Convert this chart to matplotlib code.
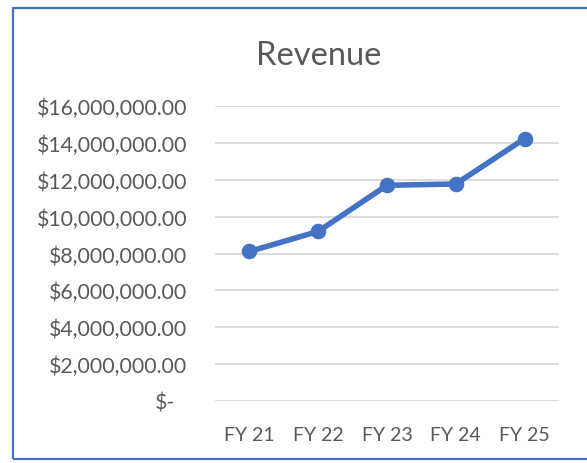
import matplotlib
matplotlib.use("Agg")
import matplotlib.pyplot as plt
from matplotlib.ticker import FuncFormatter, MultipleLocator
from matplotlib.patches import Rectangle
from matplotlib.transforms import ScaledTranslation

categories = ["FY 21", "FY 22", "FY 23", "FY 24", "FY 25"]
revenue = [8110000, 9200000, 11700000, 11770000, 14230000]
title = "Revenue"

plt.rcParams['font.family'] = ['Lato', 'DejaVu Sans']
text_color = "#595959"
blue = "#4472C4"

fig = plt.figure(figsize=(5.87, 4.64), dpi=100)
ax = fig.add_axes([215/587, 1-402/464, (559-215)/587, (402-107)/464])

x = list(range(len(categories)))
ax.plot(x, revenue, color=blue, linewidth=4.0, marker='o', markersize=10.2,
        solid_capstyle='round', zorder=3)

ax.set_xlim(-0.5, len(categories)-0.5)
ax.set_ylim(0, 16000000)
ax.yaxis.set_major_locator(MultipleLocator(2000000))

def fmt(v, pos):
    if abs(v) < 1:
        return "$-"
    return "${:,.2f}".format(v)
ax.yaxis.set_major_formatter(FuncFormatter(fmt))
ax.set_xticks(x)
ax.set_xticklabels(categories)

ax.grid(axis='y', color="#D9D9D9", linewidth=1.3)
ax.set_axisbelow(True)
for s in ax.spines.values():
    s.set_visible(False)
ax.tick_params(axis='both', length=0, colors=text_color)
ax.tick_params(axis='y', pad=20, labelsize=15.3)
ax.tick_params(axis='x', pad=18, labelsize=14)

fig.canvas.draw()
for lab in ax.get_yticklabels():
    if lab.get_text() == "$-":
        lab.set_transform(lab.get_transform() + ScaledTranslation(-12/100, 0, fig.dpi_scale_trans))

fig.text(318.5/587, 1-65/464, title, ha='center', va='baseline', fontsize=23.5, color=text_color)

fig.patches.append(Rectangle((12.5/587, 1-459.5/464), 1.0, (459.5-8.5)/464,
                             transform=fig.transFigure, fill=False,
                             edgecolor=blue, linewidth=1.6, figure=fig))

fig.savefig("out.png", dpi=100)
